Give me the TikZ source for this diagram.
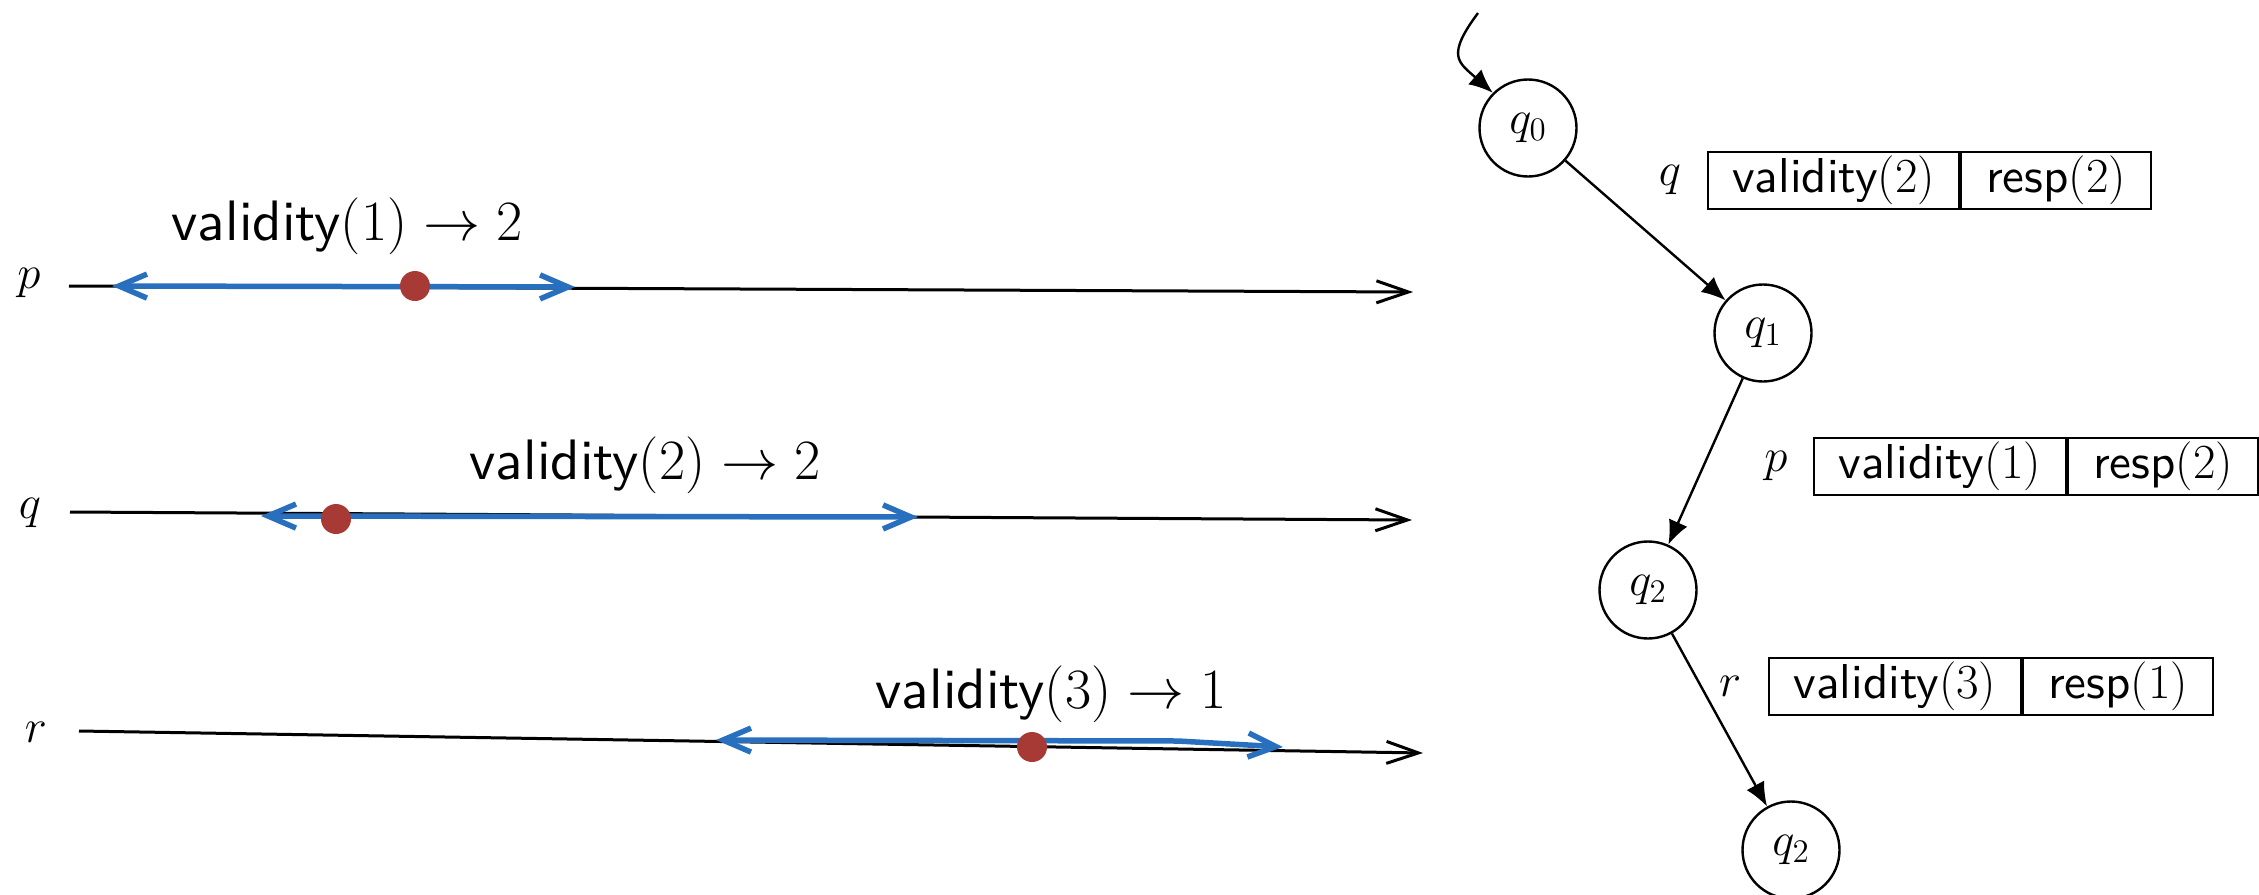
\RequirePackage{fix-cm}
\documentclass[tikz,border=0pt]{standalone}
\usepackage{fontspec}
\setsansfont{lmsans10-regular.otf}
\usetikzlibrary{arrows.meta}
\definecolor{tlblue}{RGB}{40,112,190}
\definecolor{tlred}{RGB}{168,58,53}
\newcommand{\bigfont}{\fontsize{23.5}{28}\selectfont}
\newcommand{\cellfont}{\fontsize{24.5}{29}\selectfont}
\newcommand{\labfont}{\fontsize{28.5}{34}\selectfont}
\tikzset{
  state/.style={circle,draw,line width=1.2pt,minimum size=48.5pt,inner sep=0pt,font=\bigfont},
  cellbox/.style={draw,line width=1pt,minimum height=28.5pt,inner sep=0pt,font=\cellfont,anchor=west},
  edge/.style={-{Latex[length=12pt,width=10pt]},line width=1.2pt},
  timeline/.style={-{Straight Barb[length=16pt,width=11pt]},line width=1.5pt},
  interval/.style={{Straight Barb[length=14pt,width=12pt]}-{Straight Barb[length=14pt,width=12pt]},line width=2.75pt,tlblue},
  point/.style={circle,fill=tlred,minimum size=15pt,inner sep=0pt},
  lbl/.style={font=\bigfont,inner sep=0pt},
  vallbl/.style={font=\labfont,inner sep=0pt}
}
\begin{document}
\begin{tikzpicture}[x=0.5pt,y=-0.5pt]
\useasboundingbox (0,0) rectangle (2259,894);

% timelines
\node[lbl] (plab) at (29,283) {$p$};
\coordinate (ps) at (69,286);
\coordinate (pe) at (1413,292);
\draw[timeline] (ps) -- (pe);
\coordinate (pa) at (112,286);
\coordinate (pb) at (575,287);
\draw[interval] (pa) -- (pb);
\node[point] (pdot) at (415,286) {};
\node[vallbl] (pval) at (347,226) {\textsf{validity}$(1)\rightarrow 2$};

\node[lbl] (qlabl) at (30,513) {$q$};
\coordinate (qs) at (70,512);
\coordinate (qe) at (1412,520);
\draw[timeline] (qs) -- (qe);
\coordinate (qa) at (261,516);
\coordinate (qb) at (918,517);
\draw[interval] (qa) -- (qb);
\node[point] (qdot) at (336,519) {};
\node[vallbl] (qval) at (645,465) {\textsf{validity}$(2)\rightarrow 2$};

\node[lbl] (rlab) at (36,732) {$r$};
\coordinate (rs) at (79,731);
\coordinate (re) at (1423,753);
\draw[timeline] (rs) -- (re);
\coordinate (ra) at (716,740);
\coordinate (rk) at (1178,741);
\coordinate (rb) at (1283,747);
\draw[interval] (ra) -- (rk) -- (rb);
\node[point] (rdot) at (1032,747) {};
\node[vallbl] (rval) at (1051,694) {\textsf{validity}$(3)\rightarrow 1$};

% automaton
\node[state] (q0) at (1528,128) {$q_0$};
\node[state] (q1) at (1763,333) {$q_1$};
\node[state] (q2) at (1648,590) {$q_2$};
\node[state] (q3) at (1791,850) {$q_2$};
\coordinate (init) at (1478,13);
\draw[edge] (init) .. controls (1446,56) and (1458,62) .. (q0.north west);
\draw[edge] (q0) -- (q1);
\draw[edge] (q1) -- (q2);
\draw[edge] (q2) -- (q3);

% tables
\node[lbl] (tq) at (1670,180) {$q$};
\node[cellbox,minimum width=125.5pt] (tq1) at (1707,180) {\textsf{validity}$(2)$};
\node[cellbox,minimum width=95pt] (tq2) at (tq1.east) {\textsf{resp}$(2)$};

\node[lbl] (tp) at (1776,466) {$p$};
\node[cellbox,minimum width=126pt] (tp1) at (1813,466) {\textsf{validity}$(1)$};
\node[cellbox,minimum width=95pt] (tp2) at (tp1.east) {\textsf{resp}$(2)$};

\node[lbl] (tr) at (1730,686) {$r$};
\node[cellbox,minimum width=126pt] (tr1) at (1768,686) {\textsf{validity}$(3)$};
\node[cellbox,minimum width=95pt] (tr2) at (tr1.east) {\textsf{resp}$(1)$};
\end{tikzpicture}
\end{document}
